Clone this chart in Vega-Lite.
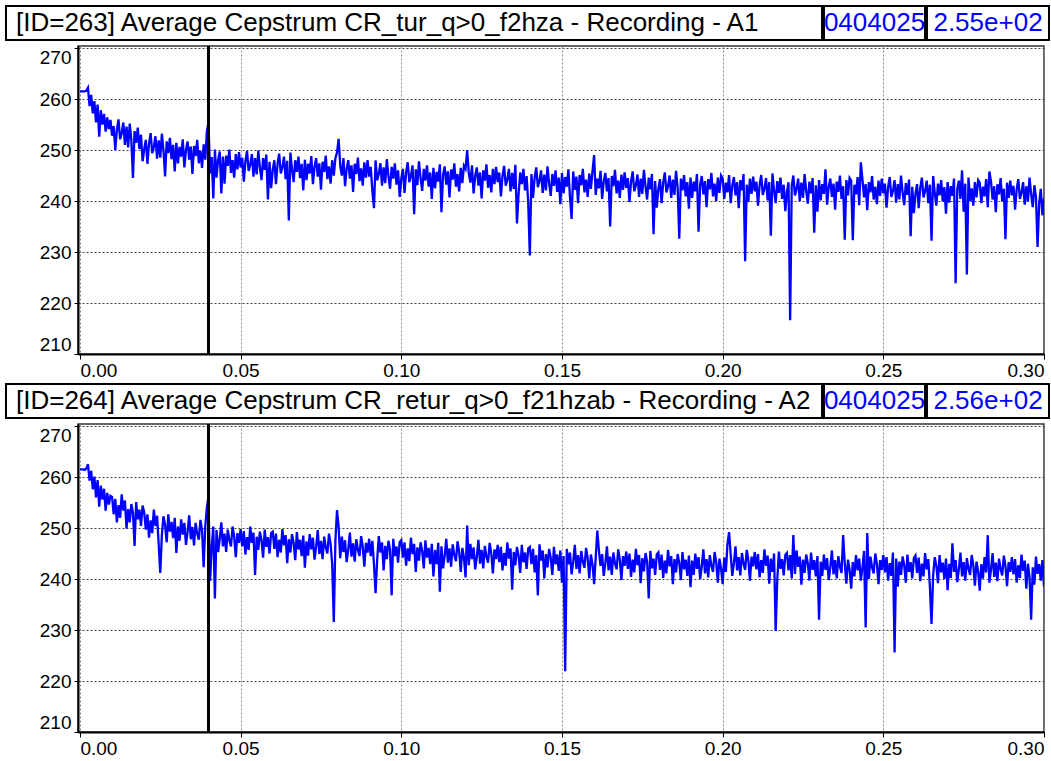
{
  "$schema": "https://vega.github.io/schema/vega-lite/v6.json",
  "padding": {"left": 5, "top": 5, "right": 0, "bottom": 0},
  "background": "white",
  "config": {
    "font": "Liberation Sans",
    "view": {"stroke": null},
    "concat": {"spacing": 0},
    "axis": {"labelFontSize": 19, "labelColor": "black", "domainColor": "black", "domainWidth": 2, "tickColor": "black", "title": null, "gridDash": [2, 2], "labelFlush": 6}
  },
  "datasets": {
    "cep": [
{"t":0,"a":261.5,"b":261.5},{"t":0.0005,"a":261.5,"b":261.5},{"t":0.001,"a":261.5,"b":261.5},{"t":0.0015,"a":261.5,"b":261.4},{"t":0.002,"a":261.6,"b":261.7},{"t":0.0025,"a":262.2,"b":262.5},{"t":0.003,"a":258.6,"b":259.3},{"t":0.0035,"a":260.8,"b":261.2},{"t":0.004,"a":257.2,"b":257.6},{"t":0.0045,"a":259.6,"b":260.1},{"t":0.005,"a":255.4,"b":256.0},{"t":0.0055,"a":258.9,"b":259.4},{"t":0.006,"a":252.6,"b":254.2},{"t":0.0065,"a":257.8,"b":258.3},{"t":0.007,"a":255.0,"b":255.6},{"t":0.0075,"a":257.1,"b":257.7},{"t":0.008,"a":253.6,"b":253.4},{"t":0.0085,"a":256.4,"b":256.9},{"t":0.009,"a":254.1,"b":254.6},{"t":0.0095,"a":255.9,"b":256.3},
{"t":0.01,"a":252.8,"b":256.1},{"t":0.0105,"a":254.7,"b":252.7},{"t":0.011,"a":250.0,"b":255.7},{"t":0.0115,"a":254.0,"b":251.1},{"t":0.012,"a":256.0,"b":254.5},{"t":0.0125,"a":252.1,"b":252.0},{"t":0.013,"a":253.3,"b":256.6},{"t":0.0135,"a":255.4,"b":253.4},{"t":0.014,"a":251.0,"b":255.4},{"t":0.0145,"a":254.6,"b":249.9},{"t":0.015,"a":250.5,"b":253.7},{"t":0.0155,"a":255.2,"b":251.1},{"t":0.016,"a":251.9,"b":254.7},{"t":0.0165,"a":244.5,"b":253.0},{"t":0.017,"a":253.7,"b":246.5},{"t":0.0175,"a":251.4,"b":255.1},{"t":0.018,"a":254.4,"b":251.7},{"t":0.0185,"a":250.2,"b":253.6},{"t":0.019,"a":253.0,"b":250.4},{"t":0.0195,"a":247.8,"b":254.4},
{"t":0.02,"a":250.1,"b":253.1},{"t":0.0205,"a":252.0,"b":249.7},{"t":0.021,"a":247.3,"b":252.7},{"t":0.0215,"a":251.3,"b":248.1},{"t":0.022,"a":253.3,"b":251.5},{"t":0.0225,"a":249.4,"b":249.0},{"t":0.023,"a":250.6,"b":253.6},{"t":0.0235,"a":252.7,"b":250.4},{"t":0.024,"a":248.3,"b":252.4},{"t":0.0245,"a":251.9,"b":246.9},{"t":0.025,"a":248.5,"b":241.2},{"t":0.0255,"a":253.2,"b":248.7},{"t":0.026,"a":249.9,"b":252.3},{"t":0.0265,"a":244.8,"b":250.6},{"t":0.027,"a":251.7,"b":247.2},{"t":0.0275,"a":249.4,"b":252.7},{"t":0.028,"a":252.4,"b":249.3},{"t":0.0285,"a":248.2,"b":251.2},{"t":0.029,"a":251.0,"b":248.0},{"t":0.0295,"a":245.8,"b":252.0},
{"t":0.03,"a":251.4,"b":245.1},{"t":0.0305,"a":247.4,"b":250.3},{"t":0.031,"a":250.6,"b":247.5},{"t":0.0315,"a":248.7,"b":251.7},{"t":0.032,"a":252.1,"b":248.7},{"t":0.0325,"a":246.6,"b":251.0},{"t":0.033,"a":250.0,"b":246.7},{"t":0.0335,"a":251.7,"b":249.2},{"t":0.034,"a":248.1,"b":252.5},{"t":0.0345,"a":250.7,"b":247.8},{"t":0.035,"a":245.3,"b":250.2},{"t":0.0355,"a":250.8,"b":246.6},{"t":0.036,"a":248.8,"b":251.0},{"t":0.0365,"a":252.0,"b":248.9},{"t":0.037,"a":247.4,"b":247.7},{"t":0.0375,"a":249.9,"b":251.6},{"t":0.038,"a":246.5,"b":249.6},{"t":0.0385,"a":251.1,"b":242.3},{"t":0.039,"a":248.1,"b":250.3},{"t":0.0395,"a":253.6,"b":254.0},
{"t":0.04,"a":255.4,"b":256.1},{"t":0.0405,"a":245.4,"b":239.6},{"t":0.041,"a":248.6,"b":246.1},{"t":0.0415,"a":240.5,"b":250.3},{"t":0.042,"a":250.1,"b":236.2},{"t":0.0425,"a":244.6,"b":249.6},{"t":0.043,"a":248.0,"b":245.3},{"t":0.0435,"a":249.7,"b":247.8},{"t":0.044,"a":241.5,"b":251.1},{"t":0.0445,"a":248.7,"b":246.4},{"t":0.045,"a":243.4,"b":248.9},{"t":0.0455,"a":248.9,"b":245.3},{"t":0.046,"a":246.9,"b":249.7},{"t":0.0465,"a":250.1,"b":247.6},{"t":0.047,"a":245.5,"b":246.4},{"t":0.0475,"a":248.0,"b":250.3},{"t":0.048,"a":244.6,"b":248.3},{"t":0.0485,"a":249.2,"b":244.3},{"t":0.049,"a":246.2,"b":249.0},{"t":0.0495,"a":249.6,"b":247.1},
{"t":0.05,"a":246.6,"b":249.8},{"t":0.0505,"a":248.5,"b":246.4},{"t":0.051,"a":243.8,"b":249.4},{"t":0.0515,"a":247.8,"b":244.8},{"t":0.052,"a":249.8,"b":248.2},{"t":0.0525,"a":245.9,"b":245.7},{"t":0.053,"a":247.1,"b":250.3},{"t":0.0535,"a":249.2,"b":247.1},{"t":0.054,"a":244.8,"b":249.1},{"t":0.0545,"a":248.4,"b":240.8},{"t":0.055,"a":245.2,"b":248.3},{"t":0.0555,"a":249.9,"b":245.7},{"t":0.056,"a":246.6,"b":249.3},{"t":0.0565,"a":244.1,"b":247.6},{"t":0.057,"a":248.4,"b":244.2},{"t":0.0575,"a":246.1,"b":249.7},{"t":0.058,"a":249.1,"b":246.3},{"t":0.0585,"a":240.3,"b":248.2},{"t":0.059,"a":247.7,"b":245.0},{"t":0.0595,"a":242.5,"b":249.0},
{"t":0.06,"a":246.1,"b":249.3},{"t":0.0605,"a":248.0,"b":245.9},{"t":0.061,"a":243.3,"b":248.9},{"t":0.0615,"a":247.3,"b":244.3},{"t":0.062,"a":249.3,"b":247.7},{"t":0.0625,"a":245.4,"b":245.2},{"t":0.063,"a":246.6,"b":249.8},{"t":0.0635,"a":248.7,"b":246.6},{"t":0.064,"a":244.3,"b":248.6},{"t":0.0645,"a":247.9,"b":243.1},{"t":0.065,"a":236.2,"b":247.8},{"t":0.0655,"a":249.5,"b":245.2},{"t":0.066,"a":246.2,"b":248.8},{"t":0.0665,"a":243.7,"b":247.1},{"t":0.067,"a":248.0,"b":243.7},{"t":0.0675,"a":245.7,"b":249.2},{"t":0.068,"a":248.7,"b":245.8},{"t":0.0685,"a":244.5,"b":247.7},{"t":0.069,"a":247.3,"b":244.5},{"t":0.0695,"a":242.1,"b":248.5},
{"t":0.07,"a":248.1,"b":242.2},{"t":0.0705,"a":244.1,"b":247.4},{"t":0.071,"a":247.3,"b":244.6},{"t":0.0715,"a":245.4,"b":248.8},{"t":0.072,"a":248.8,"b":245.8},{"t":0.0725,"a":243.3,"b":248.1},{"t":0.073,"a":246.7,"b":243.8},{"t":0.0735,"a":248.4,"b":246.3},{"t":0.074,"a":244.8,"b":249.6},{"t":0.0745,"a":247.4,"b":244.9},{"t":0.075,"a":242.2,"b":247.5},{"t":0.0755,"a":247.7,"b":243.9},{"t":0.076,"a":245.7,"b":248.3},{"t":0.0765,"a":248.9,"b":246.2},{"t":0.077,"a":244.3,"b":245.0},{"t":0.0775,"a":246.8,"b":248.9},{"t":0.078,"a":243.4,"b":246.9},{"t":0.0785,"a":248.0,"b":242.9},{"t":0.079,"a":245.0,"b":231.6},{"t":0.0795,"a":248.4,"b":247.6},
{"t":0.08,"a":249.5,"b":253.5},{"t":0.0805,"a":252.2,"b":250.2},{"t":0.081,"a":246.9,"b":244.1},{"t":0.0815,"a":245.0,"b":248.3},{"t":0.082,"a":248.4,"b":245.3},{"t":0.0825,"a":242.9,"b":247.6},{"t":0.083,"a":246.3,"b":243.3},{"t":0.0835,"a":248.0,"b":245.8},{"t":0.084,"a":244.4,"b":249.1},{"t":0.0845,"a":247.0,"b":244.4},{"t":0.085,"a":241.8,"b":247.0},{"t":0.0855,"a":247.3,"b":243.4},{"t":0.086,"a":245.3,"b":247.8},{"t":0.0865,"a":248.5,"b":245.7},{"t":0.087,"a":243.9,"b":244.5},{"t":0.0875,"a":246.4,"b":248.4},{"t":0.088,"a":243.0,"b":246.4},{"t":0.0885,"a":247.6,"b":242.4},{"t":0.089,"a":244.6,"b":247.1},{"t":0.0895,"a":248.0,"b":245.2},
{"t":0.09,"a":244.8,"b":247.9},{"t":0.0905,"a":246.7,"b":244.5},{"t":0.091,"a":242.0,"b":247.5},{"t":0.0915,"a":238.6,"b":242.9},{"t":0.092,"a":248.0,"b":237.2},{"t":0.0925,"a":244.1,"b":243.8},{"t":0.093,"a":245.3,"b":248.4},{"t":0.0935,"a":247.4,"b":245.2},{"t":0.094,"a":243.0,"b":247.2},{"t":0.0945,"a":246.6,"b":241.7},{"t":0.095,"a":243.5,"b":246.5},{"t":0.0955,"a":248.2,"b":243.9},{"t":0.096,"a":244.9,"b":247.5},{"t":0.0965,"a":242.4,"b":245.8},{"t":0.097,"a":246.7,"b":236.8},{"t":0.0975,"a":244.4,"b":247.9},{"t":0.098,"a":247.4,"b":244.5},{"t":0.0985,"a":243.2,"b":246.4},{"t":0.099,"a":246.0,"b":243.2},{"t":0.0995,"a":240.8,"b":247.2},
{"t":0.1,"a":244.4,"b":247.6},{"t":0.1005,"a":246.3,"b":244.2},{"t":0.101,"a":241.6,"b":247.2},{"t":0.1015,"a":245.6,"b":242.6},{"t":0.102,"a":247.6,"b":246.0},{"t":0.1025,"a":243.7,"b":243.5},{"t":0.103,"a":244.9,"b":248.1},{"t":0.1035,"a":247.0,"b":244.9},{"t":0.104,"a":237.4,"b":246.9},{"t":0.1045,"a":246.2,"b":241.4},{"t":0.105,"a":243.1,"b":246.2},{"t":0.1055,"a":247.8,"b":243.6},{"t":0.106,"a":244.5,"b":247.2},{"t":0.1065,"a":242.0,"b":245.5},{"t":0.107,"a":246.3,"b":242.1},{"t":0.1075,"a":244.0,"b":247.6},{"t":0.108,"a":247.0,"b":244.2},{"t":0.1085,"a":242.8,"b":246.1},{"t":0.109,"a":245.6,"b":242.9},{"t":0.1095,"a":240.4,"b":246.9},
{"t":0.11,"a":246.5,"b":240.5},{"t":0.1105,"a":242.5,"b":245.7},{"t":0.111,"a":245.7,"b":242.9},{"t":0.1115,"a":243.8,"b":247.1},{"t":0.112,"a":247.2,"b":237.5},{"t":0.1125,"a":237.8,"b":246.4},{"t":0.113,"a":245.1,"b":242.1},{"t":0.1135,"a":246.8,"b":244.6},{"t":0.114,"a":243.2,"b":247.9},{"t":0.1145,"a":245.8,"b":243.2},{"t":0.115,"a":240.7,"b":246.0},{"t":0.1155,"a":246.2,"b":242.4},{"t":0.116,"a":244.2,"b":246.8},{"t":0.1165,"a":247.4,"b":244.7},{"t":0.117,"a":242.8,"b":243.5},{"t":0.1175,"a":245.3,"b":247.4},{"t":0.118,"a":241.9,"b":245.4},{"t":0.1185,"a":246.5,"b":241.4},{"t":0.119,"a":243.5,"b":246.1},{"t":0.1195,"a":246.9,"b":244.2},
{"t":0.12,"a":246.3,"b":240.3},{"t":0.1205,"a":250.0,"b":250.5},{"t":0.121,"a":245.5,"b":242.7},{"t":0.1215,"a":243.6,"b":246.9},{"t":0.122,"a":247.0,"b":243.9},{"t":0.1225,"a":241.5,"b":246.2},{"t":0.123,"a":244.9,"b":241.9},{"t":0.1235,"a":246.6,"b":244.4},{"t":0.124,"a":243.0,"b":247.7},{"t":0.1245,"a":245.6,"b":243.0},{"t":0.125,"a":240.5,"b":245.7},{"t":0.1255,"a":246.0,"b":242.1},{"t":0.126,"a":244.0,"b":246.5},{"t":0.1265,"a":247.2,"b":244.4},{"t":0.127,"a":242.6,"b":243.2},{"t":0.1275,"a":245.1,"b":247.1},{"t":0.128,"a":241.7,"b":245.1},{"t":0.1285,"a":246.3,"b":241.1},{"t":0.129,"a":243.3,"b":245.8},{"t":0.1295,"a":246.7,"b":243.9},
{"t":0.13,"a":243.7,"b":246.7},{"t":0.1305,"a":245.6,"b":243.3},{"t":0.131,"a":240.9,"b":246.3},{"t":0.1315,"a":244.9,"b":241.7},{"t":0.132,"a":246.9,"b":245.1},{"t":0.1325,"a":243.0,"b":242.6},{"t":0.133,"a":244.2,"b":247.2},{"t":0.1335,"a":246.3,"b":244.0},{"t":0.134,"a":241.9,"b":246.0},{"t":0.1345,"a":245.5,"b":237.9},{"t":0.135,"a":242.4,"b":245.3},{"t":0.1355,"a":247.1,"b":242.7},{"t":0.136,"a":235.6,"b":246.3},{"t":0.1365,"a":241.3,"b":244.6},{"t":0.137,"a":245.6,"b":241.2},{"t":0.1375,"a":243.3,"b":246.7},{"t":0.138,"a":246.3,"b":243.3},{"t":0.1385,"a":242.1,"b":245.2},{"t":0.139,"a":244.9,"b":242.0},{"t":0.1395,"a":239.7,"b":246.0},
{"t":0.14,"a":229.3,"b":246.3},{"t":0.1405,"a":245.3,"b":242.9},{"t":0.141,"a":240.6,"b":245.9},{"t":0.1415,"a":244.6,"b":241.3},{"t":0.142,"a":246.6,"b":244.7},{"t":0.1425,"a":242.7,"b":236.8},{"t":0.143,"a":243.9,"b":246.8},{"t":0.1435,"a":246.0,"b":243.6},{"t":0.144,"a":241.6,"b":245.6},{"t":0.1445,"a":245.2,"b":240.1},{"t":0.145,"a":242.1,"b":244.9},{"t":0.1455,"a":246.8,"b":242.3},{"t":0.146,"a":243.5,"b":245.9},{"t":0.1465,"a":241.0,"b":244.2},{"t":0.147,"a":245.3,"b":240.8},{"t":0.1475,"a":243.0,"b":246.3},{"t":0.148,"a":246.0,"b":242.9},{"t":0.1485,"a":241.8,"b":244.8},{"t":0.149,"a":244.6,"b":241.6},{"t":0.1495,"a":239.4,"b":245.6},
{"t":0.15,"a":245.5,"b":239.3},{"t":0.1505,"a":241.5,"b":244.5},{"t":0.151,"a":244.7,"b":221.9},{"t":0.1515,"a":242.8,"b":245.9},{"t":0.152,"a":246.2,"b":242.9},{"t":0.1525,"a":240.7,"b":245.2},{"t":0.153,"a":236.5,"b":240.9},{"t":0.1535,"a":245.8,"b":243.4},{"t":0.154,"a":242.2,"b":246.7},{"t":0.1545,"a":244.8,"b":242.0},{"t":0.155,"a":239.6,"b":244.7},{"t":0.1555,"a":245.1,"b":241.1},{"t":0.156,"a":243.1,"b":245.5},{"t":0.1565,"a":246.3,"b":243.4},{"t":0.157,"a":241.7,"b":242.2},{"t":0.1575,"a":244.2,"b":246.1},{"t":0.158,"a":240.8,"b":244.1},{"t":0.1585,"a":245.4,"b":240.1},{"t":0.159,"a":242.4,"b":244.8},{"t":0.1595,"a":245.8,"b":242.9},
{"t":0.16,"a":249.0,"b":239.0},{"t":0.1605,"a":241.2,"b":244.2},{"t":0.161,"a":244.4,"b":249.5},{"t":0.1615,"a":242.5,"b":245.6},{"t":0.162,"a":245.9,"b":242.6},{"t":0.1625,"a":240.4,"b":244.9},{"t":0.163,"a":243.8,"b":240.6},{"t":0.1635,"a":245.5,"b":243.1},{"t":0.164,"a":241.9,"b":246.4},{"t":0.1645,"a":244.5,"b":241.7},{"t":0.165,"a":235.0,"b":244.4},{"t":0.1655,"a":244.9,"b":240.8},{"t":0.166,"a":242.9,"b":245.2},{"t":0.1665,"a":246.1,"b":243.1},{"t":0.167,"a":241.5,"b":241.9},{"t":0.1675,"a":244.0,"b":245.8},{"t":0.168,"a":240.6,"b":243.8},{"t":0.1685,"a":245.2,"b":239.8},{"t":0.169,"a":242.2,"b":244.5},{"t":0.1695,"a":245.6,"b":242.6},
{"t":0.17,"a":242.6,"b":245.4},{"t":0.1705,"a":244.5,"b":242.0},{"t":0.171,"a":239.8,"b":245.0},{"t":0.1715,"a":243.8,"b":240.4},{"t":0.172,"a":245.8,"b":243.8},{"t":0.1725,"a":241.9,"b":241.3},{"t":0.173,"a":243.1,"b":245.9},{"t":0.1735,"a":245.2,"b":242.7},{"t":0.174,"a":240.8,"b":244.7},{"t":0.1745,"a":244.4,"b":239.2},{"t":0.175,"a":241.4,"b":244.1},{"t":0.1755,"a":246.1,"b":241.5},{"t":0.176,"a":242.8,"b":245.1},{"t":0.1765,"a":240.3,"b":243.4},{"t":0.177,"a":244.6,"b":236.2},{"t":0.1775,"a":242.3,"b":245.5},{"t":0.178,"a":245.3,"b":242.1},{"t":0.1785,"a":233.5,"b":244.0},{"t":0.179,"a":243.9,"b":240.8},{"t":0.1795,"a":238.7,"b":244.8},
{"t":0.18,"a":242.4,"b":245.2},{"t":0.1805,"a":244.3,"b":241.8},{"t":0.181,"a":239.6,"b":244.8},{"t":0.1815,"a":243.6,"b":240.2},{"t":0.182,"a":245.6,"b":243.6},{"t":0.1825,"a":241.7,"b":241.1},{"t":0.183,"a":242.9,"b":245.7},{"t":0.1835,"a":245.0,"b":242.5},{"t":0.184,"a":240.6,"b":244.5},{"t":0.1845,"a":244.2,"b":239.0},{"t":0.185,"a":241.2,"b":243.9},{"t":0.1855,"a":245.9,"b":241.3},{"t":0.186,"a":242.6,"b":244.9},{"t":0.1865,"a":232.6,"b":243.2},{"t":0.187,"a":244.4,"b":239.8},{"t":0.1875,"a":242.1,"b":245.3},{"t":0.188,"a":245.1,"b":241.9},{"t":0.1885,"a":240.9,"b":243.8},{"t":0.189,"a":243.7,"b":240.6},{"t":0.1895,"a":238.5,"b":244.6},
{"t":0.19,"a":244.6,"b":238.4},{"t":0.1905,"a":240.6,"b":243.6},{"t":0.191,"a":243.8,"b":240.8},{"t":0.1915,"a":241.9,"b":245.0},{"t":0.192,"a":245.3,"b":242.0},{"t":0.1925,"a":234.0,"b":244.3},{"t":0.193,"a":243.2,"b":240.0},{"t":0.1935,"a":244.9,"b":242.5},{"t":0.194,"a":241.3,"b":245.8},{"t":0.1945,"a":243.9,"b":241.1},{"t":0.195,"a":238.8,"b":243.9},{"t":0.1955,"a":244.3,"b":240.3},{"t":0.196,"a":242.3,"b":244.7},{"t":0.1965,"a":245.5,"b":242.6},{"t":0.197,"a":240.9,"b":241.4},{"t":0.1975,"a":243.4,"b":245.3},{"t":0.198,"a":240.0,"b":243.3},{"t":0.1985,"a":244.6,"b":239.3},{"t":0.199,"a":241.6,"b":244.0},{"t":0.1995,"a":245.0,"b":242.1},
{"t":0.2,"a":244.4,"b":239.0},{"t":0.2005,"a":240.4,"b":244.2},{"t":0.201,"a":243.6,"b":241.4},{"t":0.2015,"a":241.7,"b":246.8},{"t":0.202,"a":245.1,"b":249.2},{"t":0.2025,"a":239.6,"b":244.9},{"t":0.203,"a":243.0,"b":240.6},{"t":0.2035,"a":244.7,"b":243.1},{"t":0.204,"a":241.1,"b":246.4},{"t":0.2045,"a":243.7,"b":241.7},{"t":0.205,"a":238.6,"b":244.3},{"t":0.2055,"a":244.1,"b":240.7},{"t":0.206,"a":242.1,"b":245.1},{"t":0.2065,"a":245.3,"b":243.0},{"t":0.207,"a":228.2,"b":241.8},{"t":0.2075,"a":243.2,"b":245.7},{"t":0.208,"a":239.8,"b":243.7},{"t":0.2085,"a":244.4,"b":239.7},{"t":0.209,"a":241.4,"b":244.4},{"t":0.2095,"a":244.8,"b":242.5},
{"t":0.21,"a":241.9,"b":245.3},{"t":0.2105,"a":243.8,"b":241.9},{"t":0.211,"a":239.1,"b":244.9},{"t":0.2115,"a":243.1,"b":240.3},{"t":0.212,"a":245.1,"b":243.7},{"t":0.2125,"a":241.2,"b":241.2},{"t":0.213,"a":242.4,"b":245.8},{"t":0.2135,"a":244.5,"b":242.6},{"t":0.214,"a":240.1,"b":244.6},{"t":0.2145,"a":243.7,"b":239.1},{"t":0.215,"a":233.2,"b":244.0},{"t":0.2155,"a":245.4,"b":241.4},{"t":0.216,"a":242.1,"b":245.0},{"t":0.2165,"a":239.6,"b":229.8},{"t":0.217,"a":243.9,"b":239.9},{"t":0.2175,"a":241.6,"b":245.4},{"t":0.218,"a":244.6,"b":242.0},{"t":0.2185,"a":240.4,"b":243.9},{"t":0.219,"a":243.2,"b":240.7},{"t":0.2195,"a":238.0,"b":244.7},
{"t":0.22,"a":241.8,"b":245.1},{"t":0.2205,"a":243.7,"b":241.7},{"t":0.221,"a":216.6,"b":244.7},{"t":0.2215,"a":243.0,"b":240.1},{"t":0.222,"a":245.0,"b":248.6},{"t":0.2225,"a":241.1,"b":241.0},{"t":0.223,"a":242.3,"b":245.6},{"t":0.2235,"a":244.4,"b":242.4},{"t":0.224,"a":240.0,"b":244.4},{"t":0.2245,"a":243.6,"b":238.9},{"t":0.225,"a":240.6,"b":243.8},{"t":0.2255,"a":245.3,"b":241.2},{"t":0.226,"a":242.0,"b":244.8},{"t":0.2265,"a":239.5,"b":243.1},{"t":0.227,"a":243.8,"b":239.7},{"t":0.2275,"a":241.5,"b":245.2},{"t":0.228,"a":244.5,"b":241.8},{"t":0.2285,"a":233.8,"b":243.7},{"t":0.229,"a":243.1,"b":240.5},{"t":0.2295,"a":237.9,"b":244.5},
{"t":0.23,"a":244.1,"b":232.0},{"t":0.2305,"a":240.1,"b":243.4},{"t":0.231,"a":243.3,"b":240.6},{"t":0.2315,"a":241.4,"b":244.8},{"t":0.232,"a":246.2,"b":241.8},{"t":0.2325,"a":239.3,"b":244.1},{"t":0.233,"a":242.7,"b":239.8},{"t":0.2335,"a":244.4,"b":242.3},{"t":0.234,"a":240.8,"b":245.6},{"t":0.2345,"a":243.4,"b":240.9},{"t":0.235,"a":238.3,"b":243.7},{"t":0.2355,"a":243.8,"b":240.1},{"t":0.236,"a":241.8,"b":244.5},{"t":0.2365,"a":245.0,"b":242.4},{"t":0.237,"a":240.4,"b":241.2},{"t":0.2375,"a":242.9,"b":248.6},{"t":0.238,"a":232.4,"b":243.1},{"t":0.2385,"a":244.1,"b":239.1},{"t":0.239,"a":241.1,"b":243.8},{"t":0.2395,"a":244.5,"b":241.9},
{"t":0.24,"a":244.0,"b":238.1},{"t":0.2405,"a":232.3,"b":243.3},{"t":0.241,"a":243.2,"b":240.5},{"t":0.2415,"a":241.3,"b":244.7},{"t":0.242,"a":244.7,"b":241.7},{"t":0.2425,"a":239.2,"b":244.0},{"t":0.243,"a":247.6,"b":239.7},{"t":0.2435,"a":244.3,"b":242.2},{"t":0.244,"a":240.7,"b":245.5},{"t":0.2445,"a":243.3,"b":230.5},{"t":0.245,"a":238.2,"b":249.0},{"t":0.2455,"a":243.7,"b":240.0},{"t":0.246,"a":241.7,"b":244.4},{"t":0.2465,"a":244.9,"b":242.3},{"t":0.247,"a":240.3,"b":241.1},{"t":0.2475,"a":242.8,"b":245.0},{"t":0.248,"a":239.4,"b":243.0},{"t":0.2485,"a":244.0,"b":239.0},{"t":0.249,"a":241.0,"b":243.7},{"t":0.2495,"a":244.4,"b":241.8},
{"t":0.25,"a":241.5,"b":244.7},{"t":0.2505,"a":243.4,"b":241.3},{"t":0.251,"a":238.7,"b":244.3},{"t":0.2515,"a":242.7,"b":239.7},{"t":0.252,"a":244.7,"b":243.1},{"t":0.2525,"a":240.8,"b":240.6},{"t":0.253,"a":242.0,"b":245.2},{"t":0.2535,"a":244.1,"b":225.6},{"t":0.254,"a":239.7,"b":244.0},{"t":0.2545,"a":243.3,"b":238.5},{"t":0.255,"a":240.3,"b":243.4},{"t":0.2555,"a":245.0,"b":240.8},{"t":0.256,"a":241.7,"b":244.4},{"t":0.2565,"a":239.2,"b":242.7},{"t":0.257,"a":243.5,"b":239.3},{"t":0.2575,"a":241.2,"b":244.8},{"t":0.258,"a":244.2,"b":241.4},{"t":0.2585,"a":233.1,"b":243.3},{"t":0.259,"a":242.8,"b":240.1},{"t":0.2595,"a":237.6,"b":244.1},
{"t":0.26,"a":241.4,"b":244.6},{"t":0.2605,"a":243.3,"b":241.2},{"t":0.261,"a":238.6,"b":244.2},{"t":0.2615,"a":242.6,"b":239.6},{"t":0.262,"a":244.6,"b":243.0},{"t":0.2625,"a":240.7,"b":240.5},{"t":0.263,"a":241.9,"b":245.1},{"t":0.2635,"a":244.0,"b":241.9},{"t":0.264,"a":239.6,"b":243.9},{"t":0.2645,"a":243.2,"b":238.4},{"t":0.265,"a":232.2,"b":231.2},{"t":0.2655,"a":244.9,"b":240.7},{"t":0.266,"a":241.6,"b":244.3},{"t":0.2665,"a":239.1,"b":242.6},{"t":0.267,"a":243.4,"b":239.2},{"t":0.2675,"a":241.1,"b":244.7},{"t":0.268,"a":244.1,"b":241.3},{"t":0.2685,"a":239.9,"b":243.2},{"t":0.269,"a":242.7,"b":240.0},{"t":0.2695,"a":237.5,"b":244.0},
{"t":0.27,"a":243.7,"b":237.8},{"t":0.2705,"a":239.7,"b":243.0},{"t":0.271,"a":242.9,"b":240.2},{"t":0.2715,"a":241.0,"b":247.0},{"t":0.272,"a":244.4,"b":241.4},{"t":0.2725,"a":223.9,"b":243.7},{"t":0.273,"a":242.3,"b":239.4},{"t":0.2735,"a":244.0,"b":241.9},{"t":0.274,"a":240.4,"b":245.2},{"t":0.2745,"a":246.0,"b":240.5},{"t":0.275,"a":237.9,"b":243.3},{"t":0.2755,"a":243.4,"b":239.7},{"t":0.276,"a":225.6,"b":244.1},{"t":0.2765,"a":244.6,"b":242.0},{"t":0.277,"a":240.0,"b":240.8},{"t":0.2775,"a":242.5,"b":244.7},{"t":0.278,"a":239.1,"b":242.7},{"t":0.2785,"a":243.7,"b":238.7},{"t":0.279,"a":240.7,"b":243.4},{"t":0.2795,"a":244.1,"b":241.5},
{"t":0.28,"a":243.6,"b":237.7},{"t":0.2805,"a":239.6,"b":242.9},{"t":0.281,"a":242.8,"b":240.1},{"t":0.2815,"a":240.9,"b":244.3},{"t":0.282,"a":244.3,"b":241.3},{"t":0.2825,"a":238.8,"b":248.6},{"t":0.283,"a":245.8,"b":239.3},{"t":0.2835,"a":243.9,"b":241.8},{"t":0.284,"a":240.3,"b":245.1},{"t":0.2845,"a":242.9,"b":240.4},{"t":0.285,"a":237.8,"b":243.2},{"t":0.2855,"a":243.3,"b":239.6},{"t":0.286,"a":241.3,"b":244.0},{"t":0.2865,"a":244.5,"b":241.9},{"t":0.287,"a":239.9,"b":240.7},{"t":0.2875,"a":242.4,"b":244.6},{"t":0.288,"a":232.5,"b":242.6},{"t":0.2885,"a":243.6,"b":238.6},{"t":0.289,"a":240.6,"b":243.3},{"t":0.2895,"a":244.0,"b":241.4},
{"t":0.29,"a":241.1,"b":244.3},{"t":0.2905,"a":243.0,"b":240.9},{"t":0.291,"a":238.3,"b":243.9},{"t":0.2915,"a":242.3,"b":239.3},{"t":0.292,"a":244.3,"b":242.7},{"t":0.2925,"a":240.4,"b":240.2},{"t":0.293,"a":241.6,"b":244.8},{"t":0.2935,"a":243.7,"b":241.6},{"t":0.294,"a":239.3,"b":243.6},{"t":0.2945,"a":242.9,"b":238.1},{"t":0.295,"a":239.9,"b":243.0},{"t":0.2955,"a":244.6,"b":240.4},{"t":0.296,"a":241.3,"b":232.0},{"t":0.2965,"a":238.8,"b":242.3},{"t":0.297,"a":243.1,"b":238.9},{"t":0.2975,"a":240.8,"b":244.4},{"t":0.298,"a":231.0,"b":241.0},{"t":0.2985,"a":239.6,"b":242.9},{"t":0.299,"a":242.4,"b":239.7},{"t":0.2995,"a":237.2,"b":243.7},
{"t":0.3,"a":240.5,"b":238.5}
    ]
  },
  "vconcat": [
    {
      "spacing": 3,
      "vconcat": [
        {
          "hconcat": [
            {"width": 816, "height": 34, "view": {"stroke": "black", "strokeWidth": 2, "fill": "white"},
             "data": {"values": [{"label": "[ID=263] Average Cepstrum CR_tur_q>0_f2hza - Recording - A1"}]},
             "mark": {"type": "text", "align": "left", "baseline": "middle", "fontSize": 26, "clip": true, "color": "black"},
             "encoding": {"text": {"field": "label"}, "x": {"value": 10}}},
            {"width": 101, "height": 34, "view": {"stroke": "black", "strokeWidth": 2, "fill": "white"},
             "data": {"values": [{"label": "0404025"}]},
             "mark": {"type": "text", "align": "center", "baseline": "middle", "fontSize": 26, "clip": true, "color": "#0000ff"},
             "encoding": {"text": {"field": "label"}}},
            {"width": 122, "height": 34, "view": {"stroke": "black", "strokeWidth": 2, "fill": "white"},
             "data": {"values": [{"label": "2.55e+02"}]},
             "mark": {"type": "text", "align": "center", "baseline": "middle", "fontSize": 26, "clip": true, "color": "#0000ff"},
             "encoding": {"text": {"field": "label"}}}
          ]
        },
        {
          "bounds": "flush",
          "spacing": 10,
          "hconcat": [
            {"width": 62, "height": 308, "data": {"values": [{"s": ""}]},
             "mark": {"type": "text"}, "encoding": {"text": {"field": "s"}}},
            {
              "width": 966, "height": 308,
              "view": {"stroke": "#333", "strokeWidth": 1.5},
              "data": {"name": "cep"},
              "layer": [
                {"mark": {"type": "line", "color": "#0000ff", "strokeWidth": 2.3, "clip": true},
                 "encoding": {
                   "x": {"field": "t", "type": "quantitative", "scale": {"domain": [-0.0006, 0.3], "nice": false, "zero": false},
                         "axis": {"values": [0, 0.05, 0.1, 0.15, 0.2, 0.25, 0.3], "format": ".2f", "tickSize": 5, "labelPadding": 2, "gridColor": "#8a8a8a"}},
                   "y": {"field": "a", "type": "quantitative", "scale": {"domain": [210, 270.4], "nice": false, "zero": false},
                         "axis": {"values": [210, 220, 230, 240, 250, 260, 270], "tickSize": 4, "labelPadding": 3, "gridColor": "#444"}}
                 }},
                {"mark": {"type": "rule", "color": "black", "strokeWidth": 1.2}, "encoding": {"x": {"datum": 0.04}}}
              ]
            }
          ]
        }
      ]
    },
    {
      "spacing": 3,
      "vconcat": [
        {
          "hconcat": [
            {"width": 816, "height": 34, "view": {"stroke": "black", "strokeWidth": 2, "fill": "white"},
             "data": {"values": [{"label": "[ID=264] Average Cepstrum CR_retur_q>0_f21hzab - Recording - A2"}]},
             "mark": {"type": "text", "align": "left", "baseline": "middle", "fontSize": 26, "clip": true, "color": "black"},
             "encoding": {"text": {"field": "label"}, "x": {"value": 10}}},
            {"width": 101, "height": 34, "view": {"stroke": "black", "strokeWidth": 2, "fill": "white"},
             "data": {"values": [{"label": "0404025"}]},
             "mark": {"type": "text", "align": "center", "baseline": "middle", "fontSize": 26, "clip": true, "color": "#0000ff"},
             "encoding": {"text": {"field": "label"}}},
            {"width": 122, "height": 34, "view": {"stroke": "black", "strokeWidth": 2, "fill": "white"},
             "data": {"values": [{"label": "2.56e+02"}]},
             "mark": {"type": "text", "align": "center", "baseline": "middle", "fontSize": 26, "clip": true, "color": "#0000ff"},
             "encoding": {"text": {"field": "label"}}}
          ]
        },
        {
          "bounds": "flush",
          "spacing": 10,
          "hconcat": [
            {"width": 62, "height": 308, "data": {"values": [{"s": ""}]},
             "mark": {"type": "text"}, "encoding": {"text": {"field": "s"}}},
            {
              "width": 966, "height": 308,
              "view": {"stroke": "#333", "strokeWidth": 1.5},
              "data": {"name": "cep"},
              "layer": [
                {"mark": {"type": "line", "color": "#0000ff", "strokeWidth": 2.3, "clip": true},
                 "encoding": {
                   "x": {"field": "t", "type": "quantitative", "scale": {"domain": [-0.0006, 0.3], "nice": false, "zero": false},
                         "axis": {"values": [0, 0.05, 0.1, 0.15, 0.2, 0.25, 0.3], "format": ".2f", "tickSize": 5, "labelPadding": 2, "gridColor": "#8a8a8a"}},
                   "y": {"field": "b", "type": "quantitative", "scale": {"domain": [210, 270.4], "nice": false, "zero": false},
                         "axis": {"values": [210, 220, 230, 240, 250, 260, 270], "tickSize": 4, "labelPadding": 3, "gridColor": "#444"}}
                 }},
                {"mark": {"type": "rule", "color": "black", "strokeWidth": 1.2}, "encoding": {"x": {"datum": 0.04}}}
              ]
            }
          ]
        }
      ]
    }
  ],
  "spacing": 2
}
